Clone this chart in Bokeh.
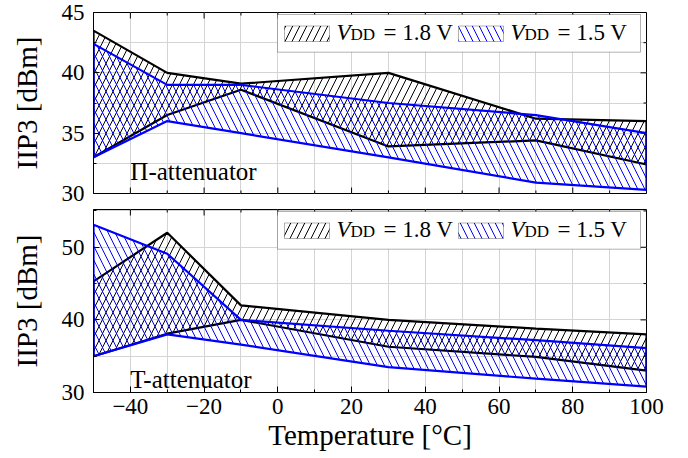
import math
from bokeh.plotting import figure
from bokeh.models import FixedTicker, Range1d, BoxAnnotation, Label
from bokeh.layouts import column
from bokeh.embed import file_html
from bokeh.resources import INLINE

# ---------------- data ----------------
temps = [-50, -30, -10, 30, 70, 100]

pi_18_hi = [43.5, 40.0, 39.1, 40.0, 36.2, 36.0]
pi_18_lo = [33.0, 36.5, 38.6, 33.9, 34.4, 32.4]
pi_15_hi = [42.4, 39.0, 39.0, 37.5, 36.5, 35.0]
pi_15_lo = [33.0, 36.0, 35.0, 33.0, 30.9, 30.3]

t_18_hi = [45.3, 52.0, 42.0, 40.0, 38.8, 38.0]
t_18_lo = [35.0, 38.1, 40.0, 36.3, 34.9, 33.0]
t_15_hi = [53.1, 49.1, 40.0, 38.5, 37.2, 36.1]
t_15_lo = [35.0, 38.0, 36.6, 33.5, 31.9, 30.8]

x_major = [-40, -20, 0, 20, 40, 60, 80, 100]
x_minor = [-50, -30, -10, 10, 30, 50, 70, 90]
x_labels = ["\u221240", "\u221220", "0", "20", "40", "60", "80", "100"]
y_top_major = [30, 35, 40, 45]
y_top_minor = [32.5, 37.5, 42.5]
y_bot_major = [30, 40, 50]
y_bot_minor = [35, 45, 55]

series_labels = ["= 1.8 V", "= 1.5 V"]

# ---------------- style ----------------
FONT = "Liberation Serif"
TICK_FS = "23px"
LABEL_FS = "29px"
GRID = "#d4d4d4"
BLUE = "#0000ff"
HATCH_SCALE = 14

X0, X1 = -50, 100
FL, FR = 93, 646          # frame left / right (page px)
FW = FR - FL


def mirror_ticks(p, y0, y1, ymaj, ymin, bottom_too):
    # ticks on top (and optionally bottom) edge and on right edge, pointing inward
    p.ray(x=x_major, y=[y1] * len(x_major), length=6, length_units="screen",
          angle=-math.pi / 2, line_color="black", line_width=1)
    p.ray(x=x_minor, y=[y1] * len(x_minor), length=3, length_units="screen",
          angle=-math.pi / 2, line_color="black", line_width=1)
    if bottom_too:
        p.ray(x=x_major, y=[y0] * len(x_major), length=6, length_units="screen",
              angle=math.pi / 2, line_color="black", line_width=1)
        p.ray(x=x_minor, y=[y0] * len(x_minor), length=3, length_units="screen",
              angle=math.pi / 2, line_color="black", line_width=1)
    p.ray(x=[X1] * len(ymaj), y=ymaj, length=6, length_units="screen",
          angle=math.pi, line_color="black", line_width=1)
    p.ray(x=[X1] * len(ymin), y=ymin, length=3, length_units="screen",
          angle=math.pi, line_color="black", line_width=1)


def make_panel(height, top_border, bottom_border, y0, y1, ymaj, ymin, show_x):
    p = figure(width=688, height=height, output_backend="svg", toolbar_location=None,
               x_range=Range1d(X0, X1), y_range=Range1d(y0, y1),
               min_border_left=FL, min_border_right=688 - FR,
               min_border_top=top_border, min_border_bottom=bottom_border,
               background_fill_color="white", border_fill_color="white",
               outline_line_color="black", outline_line_width=1)
    xt = FixedTicker(ticks=x_major, minor_ticks=x_minor)
    yt = FixedTicker(ticks=ymaj, minor_ticks=ymin)
    p.xaxis.ticker = xt
    p.yaxis.ticker = yt
    p.xgrid.ticker = xt
    p.ygrid.ticker = yt
    for g in (p.xgrid, p.ygrid):
        g.grid_line_color = GRID
        g.minor_grid_line_color = GRID
        g.grid_line_width = 1
        g.minor_grid_line_width = 1
    for ax in (p.xaxis, p.yaxis):
        ax.axis_line_color = "black"
        ax.major_tick_line_color = "black"
        ax.minor_tick_line_color = "black"
        ax.major_tick_in = 6
        ax.major_tick_out = 0
        ax.minor_tick_in = 3
        ax.minor_tick_out = 0
        ax.major_label_text_font = FONT
        ax.major_label_text_font_size = TICK_FS
        ax.major_label_text_color = "black"
        ax.axis_label_text_font = FONT
        ax.axis_label_text_font_size = LABEL_FS
        ax.axis_label_text_font_style = "normal"
        ax.axis_label_text_color = "black"
    p.yaxis.axis_label = "IIP3 [dBm]"
    p.yaxis.major_label_standoff = 9
    p.yaxis.axis_label_standoff = 16
    if show_x:
        p.xaxis.major_label_overrides = {v: s for v, s in zip(x_major, x_labels)}
        p.xaxis.major_label_standoff = 6
        p.xaxis.axis_label = "Temperature [\u00b0C]"
        p.xaxis.axis_label_standoff = 2
    else:
        p.xaxis.visible = False
    mirror_ticks(p, y0, y1, ymaj, ymin, not show_x)
    return p


def band(p, hi, lo, color, pattern):
    xs = list(temps) + list(reversed(temps))
    ys = list(hi) + list(reversed(lo))
    p.patch(xs, ys, fill_alpha=0, hatch_pattern=pattern, hatch_color=color,
            hatch_scale=HATCH_SCALE, hatch_weight=1, line_color=color, line_width=2.2)


def legend(p, y0, y1, fh):
    def dx(px):
        return X0 + (px - FL) / FW * (X1 - X0)

    def dy(rel):
        return y1 - rel / fh * (y1 - y0)

    p.add_layout(BoxAnnotation(left=dx(277), right=dx(640), top=dy(2), bottom=dy(39.7),
                               fill_color="white", fill_alpha=1, line_color="black",
                               line_width=1, level="annotation"))
    entries = [(284, 336, "black", "/", series_labels[0]),
               (458, 510, BLUE, "\\", series_labels[1])]
    for px, tx, col, pat, lab in entries:
        p.add_layout(BoxAnnotation(left=dx(px), right=dx(px + 45), top=dy(13.5), bottom=dy(29),
                                   fill_color="white", fill_alpha=1, hatch_pattern=pat,
                                   hatch_color=col, hatch_scale=HATCH_SCALE, hatch_weight=1,
                                   line_color="black", line_width=1, level="annotation"))
        p.add_layout(Label(x=dx(tx), y=dy(20), text="V", text_font=FONT,
                           text_font_size="23px", text_font_style="italic",
                           text_baseline="alphabetic", text_color="black"))
        p.add_layout(Label(x=dx(tx + 14), y=dy(22), text="DD", text_font=FONT,
                           text_font_size="17px", text_baseline="alphabetic",
                           text_color="black"))
        p.add_layout(Label(x=dx(tx + 47), y=dy(20), text=lab, text_font=FONT,
                           text_font_size="23px", text_baseline="alphabetic",
                           text_color="black"))


# ---------------- top panel: Pi attenuator ----------------
TOP_Y = (30, 45)
top = make_panel(207, 12, 14, TOP_Y[0], TOP_Y[1], y_top_major, y_top_minor, False)
band(top, pi_18_hi, pi_18_lo, "black", "/")
band(top, pi_15_hi, pi_15_lo, BLUE, "\\")
top.add_layout(Label(x=-40, y=31.8, text="\u03a0-attenuator", text_font=FONT,
                     text_font_size="25px", text_baseline="alphabetic", text_color="black"))
legend(top, TOP_Y[0], TOP_Y[1], 181)

# ---------------- bottom panel: T attenuator ----------------
BOT_Y = (30, 55.2)
bot = make_panel(251, 2, 66, BOT_Y[0], BOT_Y[1], y_bot_major, y_bot_minor, True)
band(bot, t_18_hi, t_18_lo, "black", "/")
band(bot, t_15_hi, t_15_lo, BLUE, "\\")
bot.add_layout(Label(x=-40, y=31.8, text="T-attenuator", text_font=FONT,
                     text_font_size="25px", text_baseline="alphabetic", text_color="black"))
legend(bot, BOT_Y[0], BOT_Y[1], 183)

layout = column(top, bot, spacing=0)
open("out.html", "w").write(file_html(layout, INLINE))
